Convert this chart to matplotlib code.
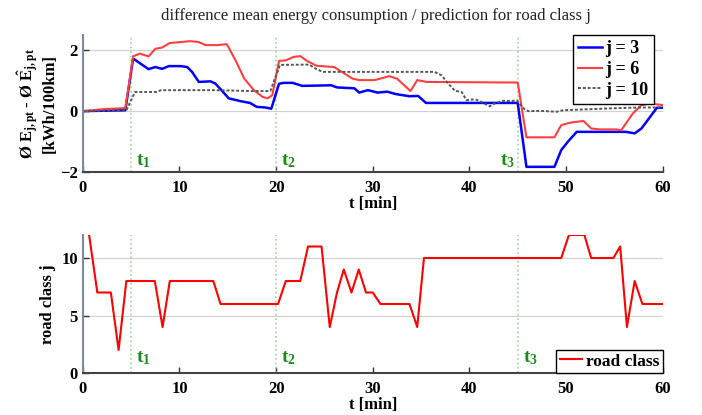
import matplotlib.pyplot as plt

# top plot: difference mean energy consumption / prediction
t_j3 = [0, 4.4, 5.2, 6.8, 7.5, 8.2, 8.9, 10.1, 10.8, 11.3, 12.0, 13.2, 13.7, 14.2, 15.1,
        16.3, 17.3, 18.0, 18.9, 19.5, 20.3, 20.8, 21.7, 22.7, 25.7, 26.3, 28.1, 28.6,
        29.5, 30.5, 31.5, 32.4, 33.8, 34.7, 35.5, 45.0, 45.9, 48.8, 49.5, 50.2, 51.1,
        56.2, 57.1, 57.8, 59.4, 60]
e_j3 = [0, 0.03, 1.73, 1.38, 1.45, 1.39, 1.48, 1.48, 1.45, 1.29, 0.96, 0.98, 0.91, 0.74, 0.42,
        0.33, 0.27, 0.14, 0.12, 0.08, 0.90, 0.93, 0.93, 0.83, 0.85, 0.78, 0.75, 0.61,
        0.69, 0.61, 0.64, 0.56, 0.49, 0.50, 0.27, 0.27, -1.83, -1.83, -1.28, -1.0, -0.68,
        -0.68, -0.73, -0.57, 0.11, 0.11]

t_j6 = [0, 2.3, 4.4, 5.2, 5.9, 6.8, 7.5, 8.2, 9.0, 10.1, 11.1, 12.0, 12.7, 13.9, 14.9,
        15.8, 16.7, 17.7, 18.6, 19.1, 19.6, 20.3, 21.0, 21.8, 22.5, 23.2, 24.2, 26.0,
        26.8, 27.9, 28.6, 30.2, 30.8, 31.7, 32.5, 33.9, 34.6, 35.6, 45.0, 45.9, 48.8,
        49.5, 50.4, 51.8, 52.6, 53.5, 55.2, 55.7, 56.9, 57.8, 58.7, 60]
e_j6 = [0, 0.07, 0.1, 1.8, 1.89, 1.8, 2.05, 2.09, 2.24, 2.27, 2.3, 2.27, 2.17, 2.17, 2.2,
        1.67, 1.07, 0.69, 0.47, 0.42, 0.52, 1.65, 1.67, 1.78, 1.81, 1.65, 1.49, 1.45,
        1.29, 1.07, 1.02, 1.02, 1.07, 1.15, 1.07, 0.66, 1.02, 0.96, 0.94, -0.86, -0.86,
        -0.46, -0.38, -0.32, -0.57, -0.6, -0.6, -0.63, -0.08, 0.2, 0.25, 0.2]

t_j10 = [0, 4.5, 5.4, 7.6, 8.1, 13.5, 17.6, 19.4, 20.4, 23.4, 24.1, 24.8, 36.4, 37.1,
         37.8, 38.5, 39.2, 39.7, 40.6, 41.2, 42.1, 42.6, 43.5, 44.3, 44.9, 45.6, 46.1,
         47.3, 49.0, 49.7, 52.1, 54.5, 57.6, 60]
e_j10 = [0, 0.03, 0.63, 0.63, 0.69, 0.69, 0.66, 0.66, 1.52, 1.53, 1.4, 1.29, 1.29, 1.18,
         0.91, 0.67, 0.63, 0.36, 0.39, 0.31, 0.16, 0.25, 0.34, 0.33, 0.36, 0.09, 0.0,
         0.01, -0.02, 0.03, 0.06, 0.09, 0.12, 0.12]

# bottom plot: road class
t_road = [0.65, 1.5, 2.9, 3.7, 4.5, 7.45, 8.25, 9.0, 13.5, 14.25, 20.2, 21.0, 22.5, 23.3,
          24.7, 25.55, 26.3, 27.0, 27.8, 28.55, 29.3, 30.0, 30.8, 33.8, 34.6, 35.3,
          49.5, 50.3, 51.9, 52.6, 54.9, 55.6, 56.3, 57.1, 57.9, 60]
road = [12, 7, 7, 2, 8, 8, 4, 8, 8, 6, 6, 8, 8, 11,
        11, 4, 7, 9, 7, 9, 7, 7, 6, 6, 4, 10,
        10, 12, 12, 10, 10, 11, 4, 8, 6, 6]

t_events = [5, 20, 45]
event_labels = ['t$_1$', 't$_2$', 't$_3$']

plt.rcParams['font.family'] = 'Liberation Serif'
plt.rcParams['font.weight'] = 'bold'
plt.rcParams['axes.labelweight'] = 'bold'
plt.rcParams['font.size'] = 12
plt.rcParams['mathtext.fontset'] = 'custom'
plt.rcParams['mathtext.rm'] = 'Liberation Serif:bold'
plt.rcParams['mathtext.it'] = 'Liberation Serif:bold'
plt.rcParams['mathtext.bf'] = 'Liberation Serif:bold'

green = '#9ad89a'
fig = plt.figure(figsize=(7.02, 4.15), dpi=100)
ax1 = fig.add_axes([0.118, 0.5855, 0.826, 0.330])
ax2 = fig.add_axes([0.118, 0.1012, 0.826, 0.3325])

for ax in (ax1, ax2):
    ax.spines['top'].set_visible(False)
    ax.spines['right'].set_visible(False)
    ax.spines['left'].set_color('#7a8aa0')
    ax.spines['bottom'].set_color('#444444')
    ax.spines['left'].set_linewidth(1.5)
    ax.spines['bottom'].set_linewidth(1.5)
    ax.tick_params(direction='in', length=4, width=1, colors='#333333', labelcolor='black')
    ax.tick_params(axis='x', pad=6)
    ax.yaxis.grid(True, color='#d0d0d0', lw=0.8)
    ax.set_axisbelow(True)
    ax.set_xlim(0, 60)
    ax.set_xticks([0, 10, 20, 30, 40, 50, 60])
    ax.set_xlabel('t [min]', labelpad=0)
    for te in t_events:
        ax.axvline(te, color=green, lw=1.2, ls=':', zorder=1)

# top
ax1.plot(t_j3, e_j3, color='blue', lw=1.8, label='j = 3')
ax1.plot(t_j6, e_j6, color='#ff4040', lw=1.5, label='j = 6')
ax1.plot(t_j10, e_j10, color='#555555', lw=1.4, ls=(0, (1.5, 1)), label='j = 10')
ax1.set_ylim(-2, 2.5)
ax1.set_yticks([-2, 0, 2])
ax1.set_ylabel('Ø E$_{j,pt}$ - Ø $\\hat{E}_{j,pt}$\n[kWh/100km]', labelpad=2, linespacing=1.0)
ax1.text(5.5, -1.35, event_labels[0], color='#1a8a1a', fontsize=14, va='top')
ax1.text(20.5, -1.35, event_labels[1], color='#1a8a1a', fontsize=14, va='top')
ax1.text(44.7, -1.35, event_labels[2], color='#1a8a1a', fontsize=14, va='top', ha='right')
ax1.legend(loc='upper right', bbox_to_anchor=(0.985, 1.0), borderaxespad=0, handlelength=1.3,
           handletextpad=0.2, borderpad=0.3, labelspacing=0.2, fancybox=False,
           edgecolor='black', framealpha=1, fontsize=13)
fig.text(0.535, 0.962, 'difference mean energy consumption / prediction for road class j',
         ha='center', va='center', fontsize=12, fontweight='normal', color='#222222')

# bottom
ax2.plot(t_road, road, color='red', lw=1.5, label='road class')
ax2.set_ylim(0, 12)
ax2.set_yticks([0, 5, 10])
ax2.set_ylabel('road class j', labelpad=4)
for te, lab in zip(t_events, event_labels):
    ax2.text(te + 0.5, 2.1, lab, color='#1a8a1a', fontsize=14, va='top')
ax2.legend(loc='lower right', bbox_to_anchor=(1.0, 0.0), borderaxespad=0, handlelength=1.3,
           handletextpad=0.2, borderpad=0.2, fancybox=False, edgecolor='black', framealpha=1,
           fontsize=12.5)

fig.savefig('out.png', dpi=100)
